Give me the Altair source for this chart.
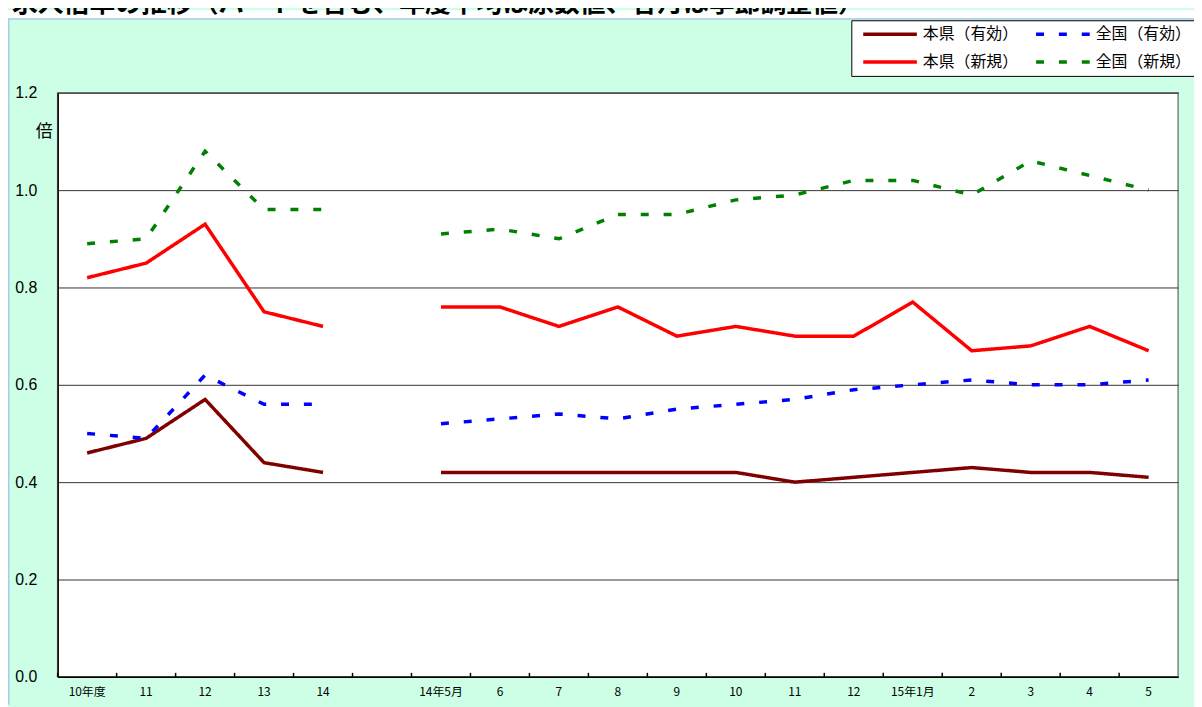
import altair as alt
import pandas as pd

title_text = "求人倍率の推移（パートを含む、年度平均は原数値、各月は季節調整値）"
x_labels = ["10年度", "11", "12", "13", "14", "", "14年5月", "6", "7", "8", "9",
            "10", "11", "12", "15年1月", "2", "3", "4", "5"]
series_names = ["本県（有効）", "本県（新規）", "全国（有効）", "全国（新規）"]
ken_yuko = [0.46, 0.49, 0.57, 0.44, 0.42, None, 0.42, 0.42, 0.42, 0.42, 0.42,
            0.42, 0.40, 0.41, 0.42, 0.43, 0.42, 0.42, 0.41]
ken_shinki = [0.82, 0.85, 0.93, 0.75, 0.72, None, 0.76, 0.76, 0.72, 0.76, 0.70,
              0.72, 0.70, 0.70, 0.77, 0.67, 0.68, 0.72, 0.67]
zen_yuko = [0.50, 0.49, 0.62, 0.56, 0.56, None, 0.52, 0.53, 0.54, 0.53, 0.55,
            0.56, 0.57, 0.59, 0.60, 0.61, 0.60, 0.60, 0.61]
zen_shinki = [0.89, 0.90, 1.08, 0.96, 0.96, None, 0.91, 0.92, 0.90, 0.95, 0.95,
              0.98, 0.99, 1.02, 1.02, 0.99, 1.06, 1.03, 1.00]
series_colors = ["#800000", "#ff0000", "#0000ff", "#008000"]
series_dashes = [[1, 0], [1, 0], [8, 15], [8, 15]]
y_ticks = [0.0, 0.2, 0.4, 0.6, 0.8, 1.0, 1.2]
y_unit = "倍"

# ---- build table ----
keys = [f"{i:02d}" for i in range(len(x_labels))]
rows = []
for name, vals in zip(series_names, [ken_yuko, ken_shinki, zen_yuko, zen_shinki]):
    for i, (k, v) in enumerate(zip(keys, vals)):
        if v is None:
            continue
        rows.append({"key": k, "series": name, "value": v, "seg": 0 if i < 5 else 1})
df = pd.DataFrame(rows)
ticks_df = pd.DataFrame({"key": keys})
title_df = pd.DataFrame({"t": [title_text]})

W, H = 1128, 588
PAD_L, PAD_T, PAD_R, PAD_B = 50, 83, 16, 28
JP = "Noto Sans CJK JP"

label_expr = "[" + ",".join("'" + l + "'" for l in x_labels) + "][toNumber(datum.value)]"
x_scale = alt.Scale(type="band", domain=keys, paddingInner=0, paddingOuter=0)

legend = alt.Legend(
    title=None, orient="none", legendX=799, legendY=-73, columns=2,
    fillColor="white", strokeColor="black", padding=6,
    symbolType="stroke", symbolSize=2916, symbolStrokeWidth=3.5, symbolOffset=4,
    labelOffset=4, clipHeight=16, rowPadding=12, columnPadding=11,
    labelFont=JP, labelFontSize=16, labelColor="black",
)

lines = alt.Chart(df).mark_line(strokeWidth=3.5).encode(
    x=alt.X("key:N", scale=x_scale, bandPosition=0.5,
            axis=alt.Axis(title=None, labelExpr=label_expr, ticks=False,
                          domainColor="black", domainWidth=1.5,
                          labelFont=JP, labelFontSize=12, labelColor="black",
                          labelPadding=10, labelAngle=0, labelOverlap=False,
                          grid=False)),
    y=alt.Y("value:Q", scale=alt.Scale(domain=[0, 1.2], nice=False, zero=True),
            axis=alt.Axis(values=y_ticks, format=".1f", title=y_unit, titleAngle=0,
                          titleX=-14, titleY=39, titleFont=JP, titleFontSize=17,
                          titleFontWeight="normal", titleColor="black",
                          titleAlign="center", titleBaseline="middle",
                          grid=True, gridColor="#333333", gridWidth=1,
                          ticks=False, domainColor="black", domainWidth=1.5,
                          labelFont="Liberation Sans", labelFontSize=16,
                          labelColor="black", labelPadding=21)),
    color=alt.Color("series:N", scale=alt.Scale(domain=series_names, range=series_colors),
                    legend=legend),
    strokeDash=alt.StrokeDash("series:N",
                              scale=alt.Scale(domain=series_names, range=series_dashes),
                              legend=legend),
    detail="seg:N",
)

ticks = alt.Chart(ticks_df).mark_rule(color="black", strokeWidth=1.5).encode(
    x=alt.X("key:N", scale=x_scale, bandPosition=0),
    y=alt.value(H - 4),
    y2=alt.value(H),
)

band = alt.Chart(title_df).mark_rect(color="white").encode(
    x=alt.value(-PAD_L), x2=alt.value(W + PAD_R),
    y=alt.value(-PAD_T), y2=alt.value(-PAD_T + 8),
)
hline = alt.Chart(title_df).mark_rule(color="#a6caf0", strokeWidth=1.5).encode(
    x=alt.value(-PAD_L), x2=alt.value(W + PAD_R), y=alt.value(-PAD_T + 8.75),
)
vline = alt.Chart(title_df).mark_rule(color="#a6caf0", strokeWidth=1.5).encode(
    x=alt.value(-PAD_L + 0.75), y=alt.value(-PAD_T + 8), y2=alt.value(H + PAD_B),
)
title = alt.Chart(title_df).mark_text(
    font=JP, fontSize=26, fontWeight="bold", align="left", baseline="bottom",
    color="black",
).encode(x=alt.value(-46), y=alt.value(-PAD_T + 7), text="t:N")

chart = alt.layer(lines, ticks, band, hline, vline, title).properties(
    width=W, height=H,
    autosize=alt.AutoSizeParams(type="none"),
    padding={"left": PAD_L, "top": PAD_T, "right": PAD_R, "bottom": PAD_B},
    background="#ccffe6",
).configure_view(fill="white", stroke="#808080", strokeWidth=1.5)

chart.save("out.html", embed_options={"renderer": "svg", "actions": False})
